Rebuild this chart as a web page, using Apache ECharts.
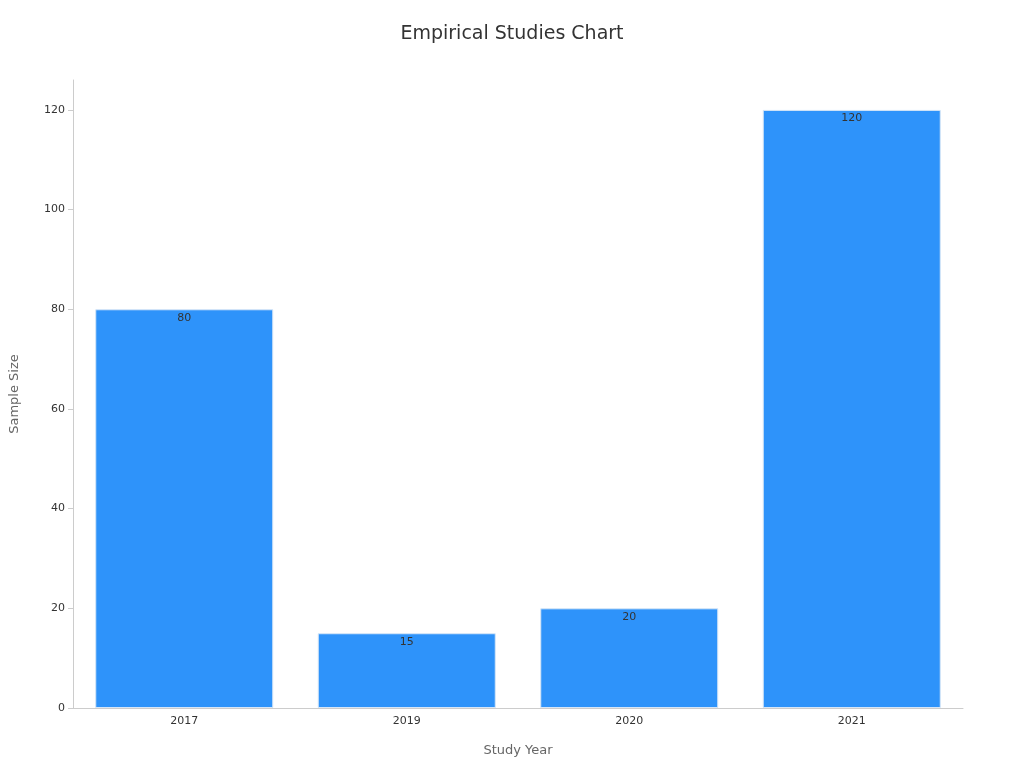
<!DOCTYPE html>
<html>
<head>
<meta charset="utf-8">
<script src="https://cdn.jsdelivr.net/npm/echarts@6/dist/echarts.min.js"></script>
<style>html,body{margin:0;padding:0;background:#fff}#container{width:1024px;height:768px}</style>
</head>
<body>
<div id="container"></div>
<script>
const years = ['2017', '2019', '2020', '2021'];
const sampleSizes = [80, 15, 20, 120];

let myChart = echarts.init(document.getElementById('container'));
let option = {
    textStyle: { fontFamily: 'DejaVu Sans' },
    title: {
        text: 'Empirical Studies Chart',
        left: 'center',
        top: 20,
        textStyle: { fontSize: 19, fontWeight: 'normal', color: '#333', fontFamily: 'DejaVu Sans' }
    },
    grid: { left: 68, right: 61, top: 80, bottom: 60 },
    xAxis: {
        type: 'category',
        data: years,
        name: 'Study Year',
        nameLocation: 'middle',
        nameGap: 36,
        nameTextStyle: { fontSize: 13, color: '#666' },
        axisLine: { lineStyle: { color: '#ccc' } },
        axisTick: { alignWithLabel: true, lineStyle: { color: '#ccc' } },
        axisLabel: { color: '#333', fontSize: 11 }
    },
    yAxis: {
        type: 'value',
        min: 0,
        max: 126,
        interval: 20,
        name: 'Sample Size',
        nameLocation: 'middle',
        nameGap: 52,
        nameTextStyle: { fontSize: 13, color: '#666' },
        axisLine: { show: true, lineStyle: { color: '#ccc' } },
        axisTick: { show: true, lineStyle: { color: '#ccc' } },
        axisLabel: { color: '#333', fontSize: 11, showMaxLabel: false },
        splitLine: { show: false }
    },
    series: [{
        type: 'bar',
        data: sampleSizes,
        barWidth: '80%',
        itemStyle: { color: '#2E93FA', borderColor: '#d6e6f7', borderWidth: 1 },
        label: { show: true, position: 'insideTop', color: '#333', fontSize: 11, offset: [0, -2] }
    }]
};
myChart.setOption(option);
</script>
</body>
</html>
